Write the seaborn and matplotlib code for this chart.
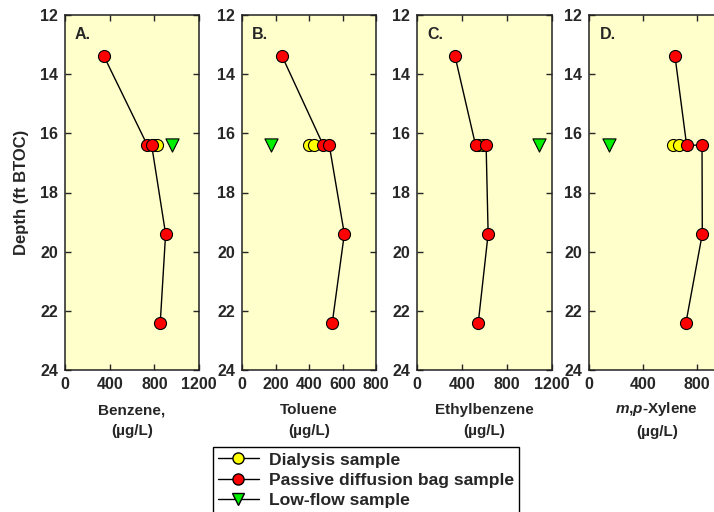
import matplotlib
matplotlib.use("Agg")
import matplotlib.pyplot as plt
import seaborn as sns
from matplotlib.lines import Line2D

# Depths (ft BTOC) of each sample type
pdb_depth = [13.4, 16.4, 16.4, 19.4, 22.4]
dial_depth = [16.4, 16.4]
lf_depth = [16.4]

# Concentrations (ug/L)
benzene_pdb = [350, 737, 776, 901, 853]
benzene_dial = [800, 821]
benzene_lf = [961]

toluene_pdb = [240, 485, 521, 611, 539]
toluene_dial = [400, 430]
toluene_lf = [173]

ethyl_pdb = [337, 520, 614, 632, 544]
ethyl_dial = [545, 585]
ethyl_lf = [1089]

xylene_pdb = [635, 721, 835, 837, 716]
xylene_dial = [622, 667]
xylene_lf = [146]

panel_letters = ["A.", "B.", "C.", "D."]
xlabels = ["Benzene,\n(\u00b5g/L)", "Toluene\n(\u00b5g/L)", "Ethylbenzene\n(\u00b5g/L)",
           "$\\mathit{m}$,$\\mathit{p}$-Xylene\n(\u00b5g/L)"]
xlims = [(0, 1200), (0, 800), (0, 1200), (0, 1000)]
xticks = [[0, 400, 800, 1200], [0, 200, 400, 600, 800], [0, 400, 800, 1200], [0, 400, 800]]
depth_ticks = [12, 14, 16, 18, 20, 22, 24]

sns.set_style("ticks")
plt.rcParams['font.family'] = ['Liberation Sans', 'DejaVu Sans']
plt.rcParams['font.weight'] = 'bold'
plt.rcParams['mathtext.fontset'] = 'custom'
plt.rcParams['mathtext.it'] = 'Liberation Sans:italic:bold'
plt.rcParams['mathtext.rm'] = 'Liberation Sans:bold'

fig = plt.figure(figsize=(7.14, 5.12), dpi=100)

lefts = [65, 242, 417.3, 589.3]
widths = [134, 134, 134.5, 135]
data = [
    (benzene_pdb, benzene_dial, benzene_lf),
    (toluene_pdb, toluene_dial, toluene_lf),
    (ethyl_pdb, ethyl_dial, ethyl_lf),
    (xylene_pdb, xylene_dial, xylene_lf),
]

for i, (pdb, dial, lf) in enumerate(data):
    ax = fig.add_axes([lefts[i] / 714, (512 - 370) / 512, widths[i] / 714, 355 / 512])
    ax.set_facecolor('#FFFFCC')
    sns.lineplot(x=pdb, y=pdb_depth, sort=False, estimator=None, color='black', lw=1, ax=ax, zorder=2)
    sns.scatterplot(x=dial, y=dial_depth, color='#FFFF00', edgecolor='black', linewidth=0.8,
                    s=75, ax=ax, zorder=3)
    sns.scatterplot(x=pdb, y=pdb_depth, color='#FF0000', edgecolor='black', linewidth=0.8,
                    s=75, ax=ax, zorder=4)
    sns.scatterplot(x=lf, y=lf_depth, color='#00EE00', edgecolor='black', linewidth=0.8,
                    marker='v', s=90, ax=ax, zorder=4)
    ax.set_xlim(*xlims[i])
    ax.set_xticks(xticks[i])
    ax.set_ylim(24, 12)
    ax.set_yticks(depth_ticks)
    ax.tick_params(direction='in', top=True, right=True, length=4, width=1, labelsize=11.5, pad=5)
    for lab in ax.get_xticklabels() + ax.get_yticklabels():
        lab.set_fontweight('bold')
    for sp in ax.spines.values():
        sp.set_linewidth(1.1)
        sp.set_color('#222222')
    ax.set_xlabel(xlabels[i], fontsize=11, fontweight='bold', linespacing=1.6,
                  labelpad=6 if i == 3 else 8)
    ax.set_ylabel('')
    ax.text(0.075, 0.945, panel_letters[i], transform=ax.transAxes, fontsize=11.5,
            fontweight='bold', va='center', ha='left')
    if i == 0:
        ax.set_ylabel('Depth (ft BTOC)', fontsize=12, fontweight='bold', labelpad=8)

handles = [
    Line2D([], [], color='black', lw=1, marker='o', markerfacecolor='#FFFF00',
           markeredgecolor='black', markersize=8),
    Line2D([], [], color='black', lw=1, marker='o', markerfacecolor='#FF0000',
           markeredgecolor='black', markersize=8),
    Line2D([], [], color='black', lw=1, marker='v', markerfacecolor='#00EE00',
           markeredgecolor='black', markersize=8),
]
labels = ['Dialysis sample', 'Passive diffusion bag sample', 'Low-flow sample']
fig.legend(handles, labels, loc='upper left', bbox_to_anchor=(213 / 714, 1 - 447 / 512),
           frameon=True, fancybox=False, edgecolor='black', framealpha=1,
           prop={'weight': 'bold', 'size': 12.6}, handlelength=2.3, handletextpad=0.6,
           borderpad=0.3, labelspacing=0.28, borderaxespad=0)

fig.savefig('out.png', dpi=100)
